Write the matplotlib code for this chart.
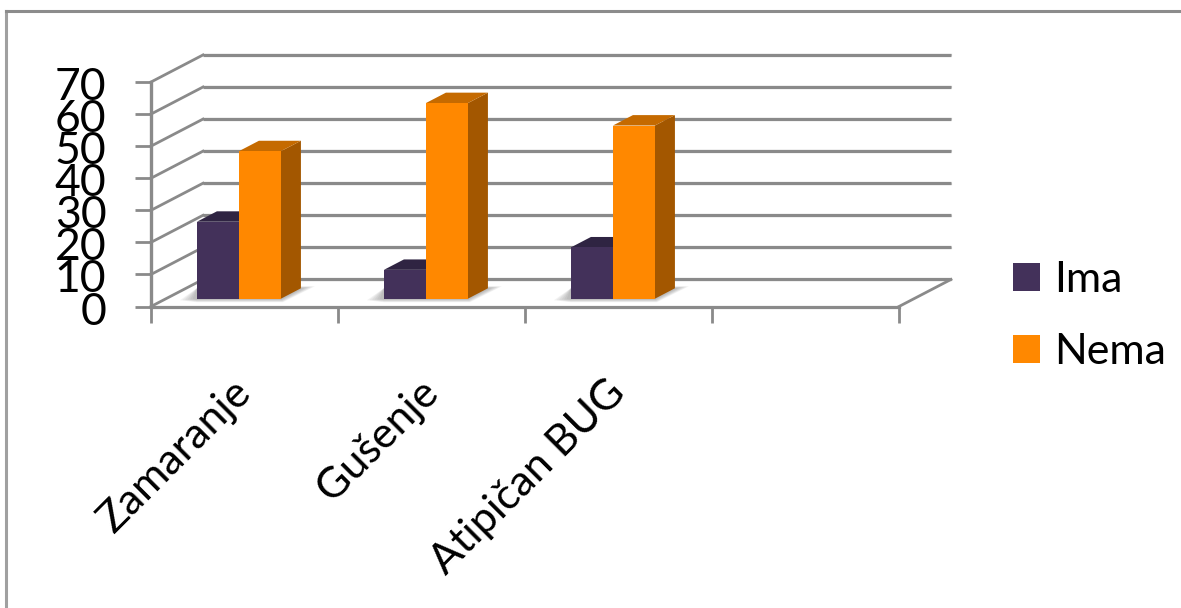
import matplotlib
matplotlib.use('Agg')
import matplotlib.pyplot as plt
from matplotlib.lines import Line2D
from matplotlib.patches import Patch, Polygon
from matplotlib.transforms import ScaledTranslation

plt.rcParams['font.family'] = ['Lato', 'DejaVu Sans']

kategorije = ['Zamaranje', 'Gušenje', 'Atipičan BUG', '']
ima = [24, 9, 16]
nema = [46, 61, 54]
y_ticks = [0, 10, 20, 30, 40, 50, 60, 70]

GRID = '#8a8a8a'
IMA_BOJE = ('#43315a', '#2f2442', '#2a2038')
NEMA_BOJE = ('#ff8800', '#c56a00', '#a35700')

# pomak dubine, u jedinicama osa
DX = 52 / 187
DY = 27 / 3.2
Z0, Z1 = 0.288, 0.673
SIRINA = 42 / 187
CENTAR = 0.39
# jedan piksel u jedinicama osa
PX = 1 / 187
PY = 1 / 3.2


def proj(x, y, z):
    return x + z * DX, y + z * DY


fig = plt.figure(figsize=(11.81, 6.08), dpi=100)
ax = fig.add_axes([151 / 1181, 1 - 306.5 / 608, 748 / 1181, 224.5 / 608])
ax.set_xlim(0, 4)
ax.set_ylim(0, 70)
for s in ax.spines.values():
    s.set_visible(False)
ax.patch.set_alpha(0)

# okvir grafikona
fig.add_artist(Line2D([6 / 1181, 6 / 1181], [0, 1 - 11 / 608], color='#a0a0a0', lw=2.2))
fig.add_artist(Line2D([6 / 1181, 1], [1 - 11 / 608, 1 - 11 / 608], color='#8c8c8c', lw=2.2))

# zidovi i pod
for v in y_ticks:
    x0, y0 = proj(0, v, 0)
    x1, y1 = proj(0, v, 1)
    x2, y2 = proj(4, v, 1)
    ax.plot([x1, x2], [y1 - 0.09, y2 - 0.09], color='#dcdcdc', lw=1.6, clip_on=False, zorder=1)
    ax.plot([x1, x2], [y1, y2], color=GRID, lw=2.3, clip_on=False, zorder=2, solid_capstyle='butt')
    ax.plot([x0, x1], [y0, y1], color=GRID, lw=2.0, clip_on=False, zorder=2)
ax.plot([0, 4], [0, 0], color=GRID, lw=2.3, clip_on=False, zorder=2)
ax.plot([0, 4], [-0.09, -0.09], color='#dcdcdc', lw=1.2, clip_on=False, zorder=1)
x3, y3 = proj(4, 0, 1)
ax.plot([4, x3], [0, y3], color=GRID, lw=2.0, clip_on=False, zorder=2)
ax.plot([0, 0], [0, 70], color=GRID, lw=2.4, clip_on=False, zorder=3)

# stubici
for i in range(len(ima)):
    lijevo = i + CENTAR - SIRINA
    desno = i + CENTAR + SIRINA

    # meka sjena na podu
    xa, ya = proj(lijevo, 0, Z0)
    xb, yb = proj(desno, 0, Z0)
    xc, yc = proj(desno, 0, Z1)
    for f in [1.0, 0.85, 0.7, 0.55, 0.4, 0.25]:
        sjena = [(xa - 17 * f * PX, ya - 1.5 * f * PY),
                 (xa, ya - 3.5 * f * PY),
                 (xb + 2 * f * PX, yb - 3.5 * f * PY),
                 (xc + 14 * f * PX, yc + 2 * f * PY),
                 (xc, yc + 2 * f * PY),
                 (xa, yc)]
        ax.add_patch(Polygon(sjena, closed=True, fc='#5a5a5a', ec='none', alpha=0.08,
                             clip_on=False, zorder=3))

    for x_l, v, boje in [(lijevo, ima[i], IMA_BOJE), (i + CENTAR, nema[i], NEMA_BOJE)]:
        x_d = x_l + SIRINA
        gore = [proj(x_l, v, Z0), proj(x_d, v, Z0), proj(x_d, v, Z1), proj(x_l, v, Z1)]
        bok = [proj(x_d, 0, Z0), proj(x_d, v, Z0), proj(x_d, v, Z1), proj(x_d, 0, Z1)]
        ax.add_patch(Polygon(bok, closed=True, fc=boje[2], ec='none', clip_on=False, zorder=4))
        ax.add_patch(Polygon(gore, closed=True, fc=boje[1], ec='none', clip_on=False, zorder=4))
        ax.bar(proj(x_l, 0, Z0)[0], v, width=SIRINA, bottom=proj(0, 0, Z0)[1], align='edge',
               color=boje[0], clip_on=False, zorder=5)

ax.set_yticks(y_ticks)
ax.set_yticklabels([str(v) for v in y_ticks], fontsize=32, va='center')
ax.tick_params(axis='y', length=11.5, width=2.0, color=GRID, pad=20.6, labelsize=32)
pomak_y = ScaledTranslation(0, -4 / 72, fig.dpi_scale_trans)
for t in ax.get_yticklabels():
    t.set_transform(t.get_transform() + pomak_y)

ax.set_xticks(range(5))
ax.set_xticklabels([''] * 5)
ax.tick_params(axis='x', which='major', length=11.5, width=2.0, color=GRID)
ax.set_xticks([0.5, 1.5, 2.5, 3.5], minor=True)
ax.set_xticklabels(kategorije, minor=True, rotation=45, ha='right', va='top',
                   rotation_mode='anchor', fontsize=31)
ax.tick_params(axis='x', which='minor', length=0, pad=52)
pomak_x = ScaledTranslation(-9.4 / 72, 4.3 / 72, fig.dpi_scale_trans)
for t in ax.get_xticklabels(minor=True):
    t.set_transform(t.get_transform() + pomak_x)

ruke = [Patch(fc=IMA_BOJE[0], ec='none'), Patch(fc=NEMA_BOJE[0], ec='none')]
fig.legend(ruke, ['Ima', 'Nema'], loc='center left', bbox_to_anchor=(1013 / 1181, 1 - 316 / 608),
           frameon=False, fontsize=31, handlelength=0.627, handleheight=0.627,
           handletextpad=0.32, labelspacing=0.78, borderpad=0, borderaxespad=0)

plt.savefig('out.png', dpi=100)
